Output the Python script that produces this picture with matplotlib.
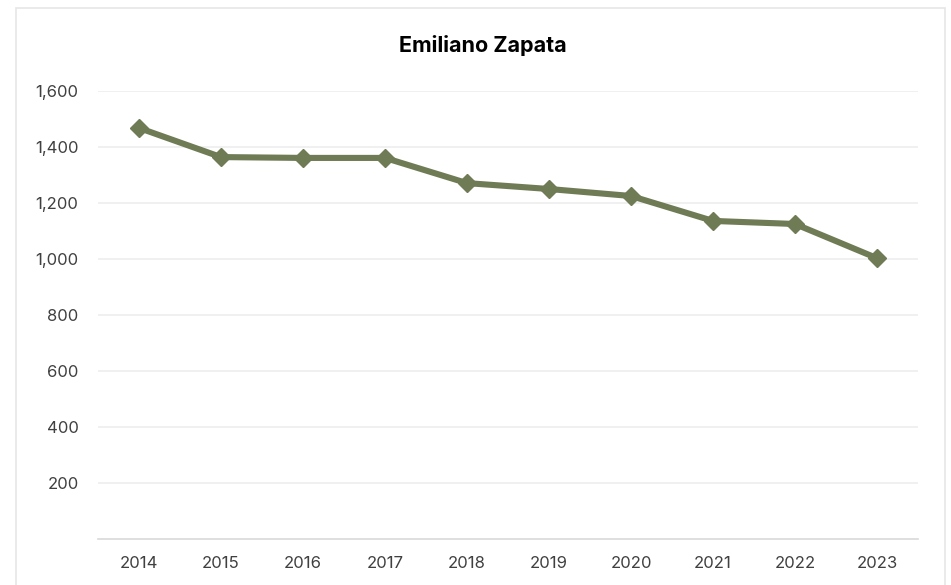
import matplotlib.pyplot as plt
from matplotlib.patches import Rectangle

years = ['2014', '2015', '2016', '2017', '2018', '2019', '2020', '2021', '2022', '2023']
values = [1468, 1364, 1361, 1361, 1271, 1250, 1225, 1136, 1125, 1003]
yticks = [200, 400, 600, 800, 1000, 1200, 1400, 1600]

plt.rcParams['font.family'] = ['Inter', 'DejaVu Sans']

W, H = 951, 585
fig = plt.figure(figsize=(W / 100, H / 100), dpi=100)

# light frame around the chart area
fig.patches.append(Rectangle((16 / W, -0.05), (945 - 16) / W, 1.05 - 8 / H,
                             transform=fig.transFigure, fill=False,
                             edgecolor='#E6E6E6', linewidth=1.2))

ax = fig.add_axes([98 / W, 1 - 539 / H, (918 - 98) / W, (539 - 91) / H])
x = range(len(years))
ax.plot(x, values, color='#6E7B55', linewidth=4.4, marker='D', markersize=9,
        solid_joinstyle='miter')

ax.set_xlim(-0.5, len(years) - 0.5)
ax.set_ylim(0, 1600)
ax.set_xticks(list(x))
ax.set_xticklabels(years)
ax.set_yticks(yticks)
ax.set_yticklabels([f'{v:,}' for v in yticks])
ax.tick_params(length=0, labelsize=12, colors='#404040')
ax.tick_params(axis='y', pad=14)
ax.tick_params(axis='x', pad=12)
ax.grid(axis='y', color='#EEEEEE', linewidth=1.2)
ax.set_axisbelow(True)
for side in ['left', 'right', 'top']:
    ax.spines[side].set_visible(False)
ax.spines['bottom'].set_color('#D9D9D9')
ax.spines['bottom'].set_linewidth(1.2)

fig.text(483 / W, 1 - 45 / H, 'Emiliano Zapata', ha='center', va='center',
         fontsize=15.5, fontweight='bold', color='#000000')

fig.savefig('out.png', dpi=100)
